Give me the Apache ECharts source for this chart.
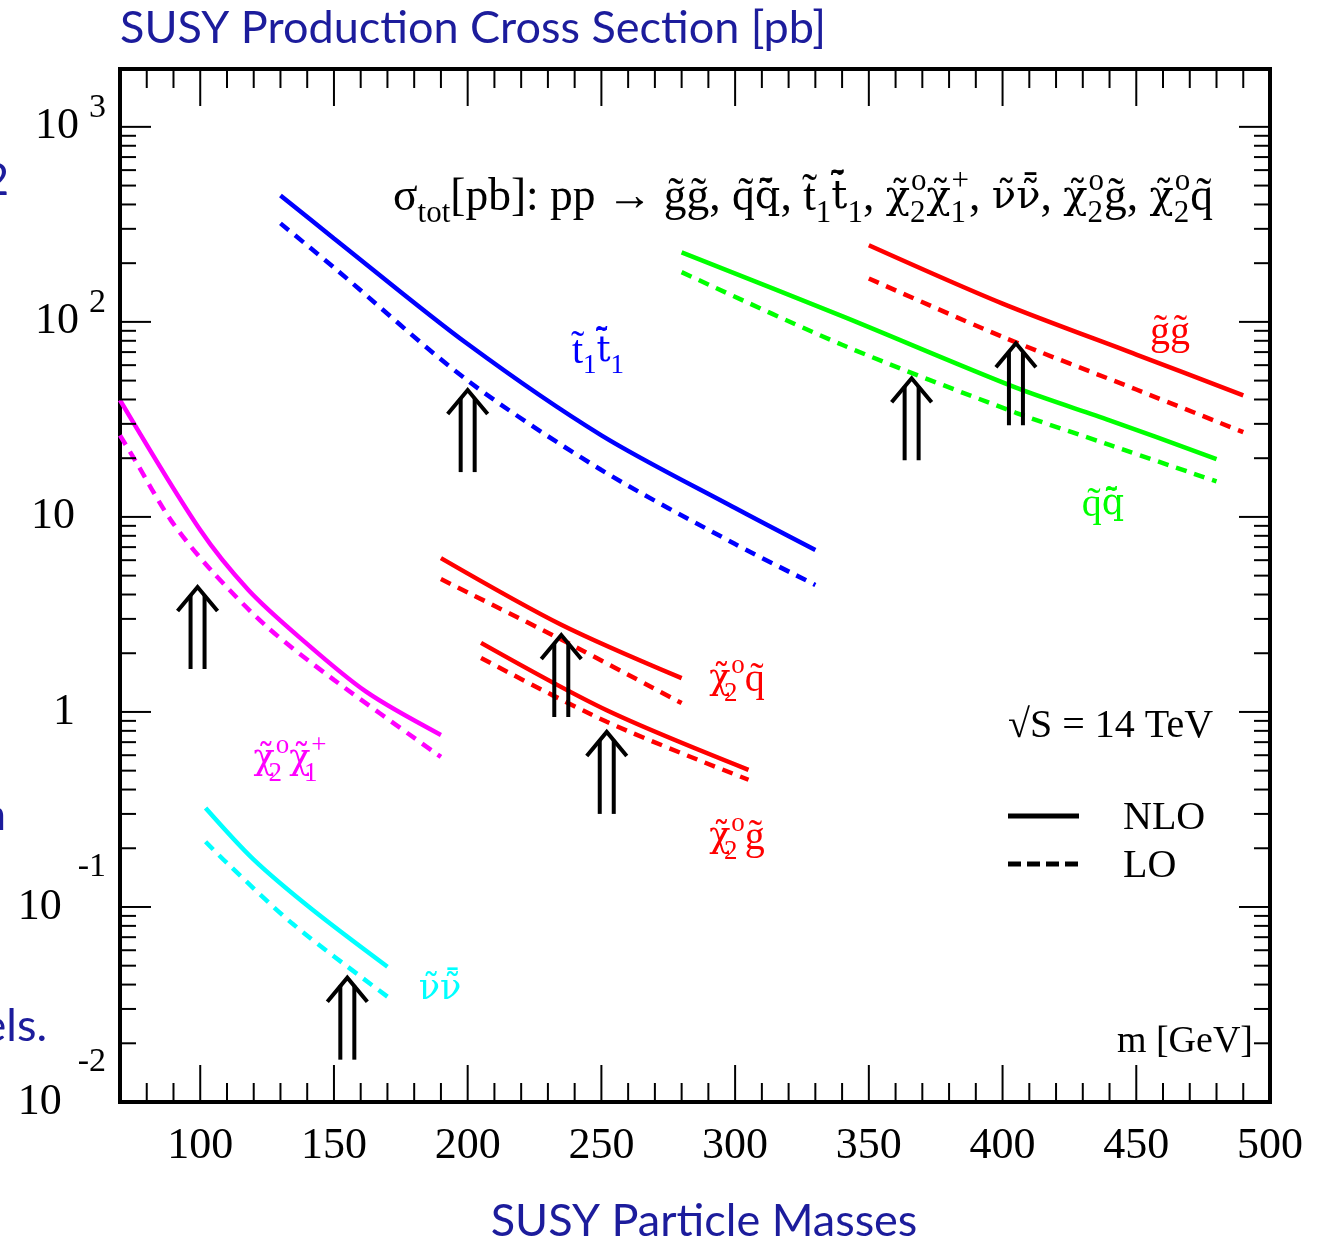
<!DOCTYPE html>
<html>
<head>
<meta charset="utf-8">
<title>SUSY Production Cross Section</title>
<script src="https://cdn.jsdelivr.net/npm/echarts@6/dist/echarts.min.js"></script>
<style>
  html, body { margin: 0; padding: 0; background: #fff; }
  #chart { width: 1323px; height: 1240px; }
</style>
</head>
<body>
<div id="chart"></div>
<script>
// sigma_tot [pb] vs sparticle mass [GeV], pp at 14 TeV. NLO solid, LO dashed

// stop pair
const massTT = [130, 150, 200, 250, 300, 330];
const nloTT = [445, 268, 77, 26.2, 11.1, 6.76];
const loTT = [320, 190, 50, 17.4, 7.26, 4.48];

// squark pair
const massQQ = [280, 340, 405, 440, 480];
const nloQQ = [227, 107, 46, 31.3, 19.8];
const loQQ = [180, 76.3, 34.2, 23.4, 15.2];

// gluino pair
const massGG = [350, 400, 450, 490];
const nloGG = [247, 124, 68, 42];
const loGG = [167, 83.8, 45, 27.2];

// neutralino2 + squark
const massNQ = [190, 235, 280];
const nloNQ = [6.15, 2.8, 1.49];
const loNQ = [4.8, 2.35, 1.11];

// neutralino2 + gluino
const massNG = [205, 252, 305];
const nloNG = [2.26, 1.02, 0.505];
const loNG = [1.89, 0.89, 0.449];

// neutralino2 + chargino1
const massNC = [70, 100, 118, 137, 162, 190];
const nloNC = [39.7, 8.56, 4.22, 2.42, 1.27, 0.762];
const massNCLo = [70, 75, 89, 104, 125, 150, 190];
const loNC = [26.2, 20.2, 9.63, 5.34, 2.73, 1.46, 0.588];

// sneutrino pair
const massNN = [102, 120, 142, 170];
const nloNN = [0.322, 0.175, 0.0968, 0.0494];
const massNNLo = [102, 110, 135, 170];
const loNN = [0.216, 0.168, 0.081, 0.0347];

// double arrows
const arrowMass = [99, 155, 200, 235, 252, 366, 405];
const arrowTip = [4.37, 0.0434, 44.7, 2.48, 0.79, 51.4, 77.7];

// axis ticks
const xMajorTicks = [100, 150, 200, 250, 300, 350, 400, 450, 500];
const xMinorTicks = [];
for (let m = 80; m < 500; m += 10) if (m % 50 !== 0) xMinorTicks.push(m);
const yMajorTicks = [0.01, 0.1, 1, 10, 100, 1000];
const yMinorTicks = [];
for (let e = -2; e <= 3; e++) for (let k = 2; k <= 9; k++) {
    const v = k * Math.pow(10, e);
    if (v < 1980) yMinorTicks.push(v);
}
const yTickLabels = {
    '-2': '{b|10}{sn|-2}',
    '-1': '{b|10}{sn|-1}',
    '0': '{p|1}',
    '1': '{p|10}',
    '2': '{b|10}{s|2}',
    '3': '{b|10}{s|3}'
};

const SERIF = 'Liberation Serif';
const MARKS = 'DejaVu Serif';
const SANS = 'Lato';
const BLUE = '#0000ff', GREEN = '#00ff00', RED = '#ff0000', MAGENTA = '#ff00ff', CYAN = '#00ffff';

const pts = (xs, ys) => xs.map((x, i) => [x, ys[i]]);

const curve = (name, color, data, dashed) => ({
    name: name,
    type: 'line',
    data: data,
    smooth: 0.3,
    symbol: 'none',
    silent: true,
    lineStyle: { color: color, width: 4.5, type: dashed ? [11, 8] : 'solid' },
    z: 3
});

const tickSeries = (name, data, isX, len) => ({
    name: name,
    type: 'custom',
    silent: true,
    z: 5,
    data: data.map(v => isX ? [v, 1] : [100, v]),
    renderItem: function (params, api) {
        const cs = params.coordSys;
        const st = { stroke: '#000', lineWidth: 2 };
        if (isX) {
            const p = api.coord([api.value(0), 1]);
            const yb = cs.y + cs.height;
            return { type: 'group', children: [
                { type: 'line', shape: { x1: p[0], y1: yb, x2: p[0], y2: yb - len }, style: st },
                { type: 'line', shape: { x1: p[0], y1: cs.y, x2: p[0], y2: cs.y + len }, style: st }
            ] };
        }
        const p = api.coord([100, api.value(1)]);
        const xr = cs.x + cs.width;
        return { type: 'group', children: [
            { type: 'line', shape: { x1: cs.x, y1: p[1], x2: cs.x + len, y2: p[1] }, style: st },
            { type: 'line', shape: { x1: xr, y1: p[1], x2: xr - len, y2: p[1] }, style: st }
        ] };
    }
});

const arrowSeries = {
    name: 'arrows',
    type: 'custom',
    silent: true,
    z: 6,
    data: pts(arrowMass, arrowTip),
    renderItem: function (params, api) {
        const p = api.coord([api.value(0), api.value(1)]);
        const st = { stroke: '#000', lineWidth: 4, fill: null };
        return { type: 'group', children: [
            { type: 'line', shape: { x1: p[0] - 7, y1: p[1] + 8, x2: p[0] - 7, y2: p[1] + 82 }, style: st },
            { type: 'line', shape: { x1: p[0] + 7, y1: p[1] + 8, x2: p[0] + 7, y2: p[1] + 82 }, style: st },
            { type: 'polyline', shape: { points: [[p[0] - 20, p[1] + 24], [p[0], p[1]], [p[0] + 20, p[1] + 24]] }, style: st }
        ] };
    }
};

// m: roman text, k: letters carrying stacked marks, sub/sup: indices, z: subscript taking no width
const mathRich = (size, color) => {
    const small = Math.round(size * 0.68);
    return {
        m: { fontFamily: SERIF, fontSize: size, lineHeight: size + 6, fill: color },
        k: { fontFamily: MARKS, fontSize: Math.round(size * 0.88), lineHeight: size + 6, fill: color },
        sub: { fontFamily: SERIF, fontSize: small, lineHeight: small, padding: [size * 0.7, 0, 0, 0], fill: color },
        z: { fontFamily: SERIF, fontSize: small, lineHeight: small, width: 1, padding: [size * 0.7, 0, 0, 0], fill: color },
        sup: { fontFamily: SERIF, fontSize: small, lineHeight: small, padding: [0, 0, size * 0.7, 0], fill: color }
    };
};

const mathText = (x, y, text, size, color, align) => ({
    type: 'text', x: x, y: y, z: 10, silent: true,
    style: { text: text, rich: mathRich(size, color), align: align || 'center', verticalAlign: 'middle' }
});

const plainText = (x, y, text, font, size, color, align) => ({
    type: 'text', x: x, y: y, z: 10, silent: true,
    style: { text: text, fontFamily: font, fontSize: size, fill: color, align: align || 'left', verticalAlign: 'middle' }
});

const T = '\u0303', BAR = '\u0304';
const CHI = '{k|\u03c7' + T + '}';
const NU = '{k|\u03bd' + T + '}';
const NUBAR = '{k|\u03bd' + T + BAR + '}';
const QBAR = '{k|q' + T + BAR + '}';
const TBAR = '{k|t' + T + BAR + '}';

const chart = echarts.init(document.getElementById('chart'), null, { renderer: 'canvas' });

chart.setOption({
    backgroundColor: '#ffffff',
    animation: false,
    grid: { left: 120, top: 69, right: 53, bottom: 138, show: true, borderColor: '#000', borderWidth: 4 },
    xAxis: {
        type: 'value', min: 70, max: 500, interval: 10,
        axisLine: { show: false }, axisTick: { show: false }, splitLine: { show: false },
        axisLabel: {
            margin: 22, color: '#000', fontFamily: SERIF, fontSize: 44,
            formatter: v => (v % 50 === 0 ? String(v) : '')
        }
    },
    yAxis: {
        type: 'log', logBase: 10, min: 0.01, max: 1980,
        axisLine: { show: false }, axisTick: { show: false }, splitLine: { show: false },
        axisLabel: {
            margin: 14, color: '#000',
            formatter: function (v) {
                const e = Math.round(Math.log10(v));
                if (Math.abs(Math.log10(v) - e) > 1e-6) return '';
                return yTickLabels[String(e)] || '';
            },
            rich: {
                b: { fontFamily: SERIF, fontSize: 44, lineHeight: 44, color: '#000' },
                p: { fontFamily: SERIF, fontSize: 44, lineHeight: 44, color: '#000', padding: [0, 31, 0, 0] },
                s: { fontFamily: SERIF, fontSize: 34, lineHeight: 34, color: '#000', padding: [0, 0, 38, 10] },
                sn: { fontFamily: SERIF, fontSize: 34, lineHeight: 34, color: '#000', padding: [0, 0, 80, 16] }
            }
        }
    },
    series: [
        curve('t1t1 NLO', BLUE, pts(massTT, nloTT), false),
        curve('t1t1 LO', BLUE, pts(massTT, loTT), true),
        curve('qq NLO', GREEN, pts(massQQ, nloQQ), false),
        curve('qq LO', GREEN, pts(massQQ, loQQ), true),
        curve('gg NLO', RED, pts(massGG, nloGG), false),
        curve('gg LO', RED, pts(massGG, loGG), true),
        curve('x2q NLO', RED, pts(massNQ, nloNQ), false),
        curve('x2q LO', RED, pts(massNQ, loNQ), true),
        curve('x2g NLO', RED, pts(massNG, nloNG), false),
        curve('x2g LO', RED, pts(massNG, loNG), true),
        curve('x2x1 NLO', MAGENTA, pts(massNC, nloNC), false),
        curve('x2x1 LO', MAGENTA, pts(massNCLo, loNC), true),
        curve('nn NLO', CYAN, pts(massNN, nloNN), false),
        curve('nn LO', CYAN, pts(massNNLo, loNN), true),
        arrowSeries,
        tickSeries('x major', xMajorTicks, true, 37),
        tickSeries('x minor', xMinorTicks, true, 19),
        tickSeries('y major', yMajorTicks, false, 31),
        tickSeries('y minor', yMinorTicks, false, 16)
    ],
    graphic: [
        plainText(120, 28, 'SUSY Production Cross Section [pb]', SANS, 45, '#1c1c9c', 'left'),
        plainText(704, 1221, 'SUSY Particle Masses', SANS, 45, '#1c1c9c', 'center'),
        plainText(9, 180, '2', SANS, 45, '#1c1c9c', 'right'),
        plainText(6, 815, 'n', SANS, 45, '#1c1c9c', 'right'),
        plainText(47, 1026, 'channels.', SANS, 45, '#1c1c9c', 'right'),
        mathText(393, 198,
            '{m|\u03c3}{sub|tot}{m|[pb]: pp \u2192 g' + T + 'g' + T + ', q' + T + '}' + QBAR +
            '{m|, t' + T + '}{sub|1}' + TBAR + '{sub|1}{m|, }' + CHI + '{z|2}{sup|o}' + CHI +
            '{z|1}{sup|+}{m|, }' + NU + NUBAR + '{m|, }' + CHI + '{z|2}{sup|o}{m|g' + T +
            ', }' + CHI + '{z|2}{sup|o}{m|q' + T + '}', 45.5, '#000', 'left'),
        mathText(598, 352, '{m|t' + T + '}{sub|1}' + TBAR + '{sub|1}', 40, BLUE),
        mathText(1170, 333, '{m|g' + T + 'g' + T + '}', 40, RED),
        mathText(1103, 505, '{m|q' + T + '}' + QBAR, 40, GREEN),
        mathText(737, 680, CHI + '{z|2}{sup|o}{m|q' + T + '}', 40, RED),
        mathText(737, 838, CHI + '{z|2}{sup|o}{m|g' + T + '}', 40, RED),
        mathText(290, 760, CHI + '{z|2}{sup|o}' + CHI + '{z|1}{sup|+}', 40, MAGENTA),
        mathText(440, 990, NU + NUBAR, 40, CYAN),
        plainText(1008, 726, '\u221aS = 14 TeV', SERIF, 40, '#000', 'left'),
        {
            type: 'line', z: 10, silent: true,
            shape: { x1: 1008, y1: 816, x2: 1079, y2: 816 },
            style: { stroke: '#000', lineWidth: 5 }
        },
        {
            type: 'line', z: 10, silent: true,
            shape: { x1: 1008, y1: 864, x2: 1079, y2: 864 },
            style: { stroke: '#000', lineWidth: 5, lineDash: [13, 6] }
        },
        plainText(1123, 818, 'NLO', SERIF, 40, '#000', 'left'),
        plainText(1123, 866, 'LO', SERIF, 40, '#000', 'left'),
        plainText(1253, 1042, 'm [GeV]', SERIF, 38, '#000', 'right')
    ]
});
</script>
</body>
</html>
